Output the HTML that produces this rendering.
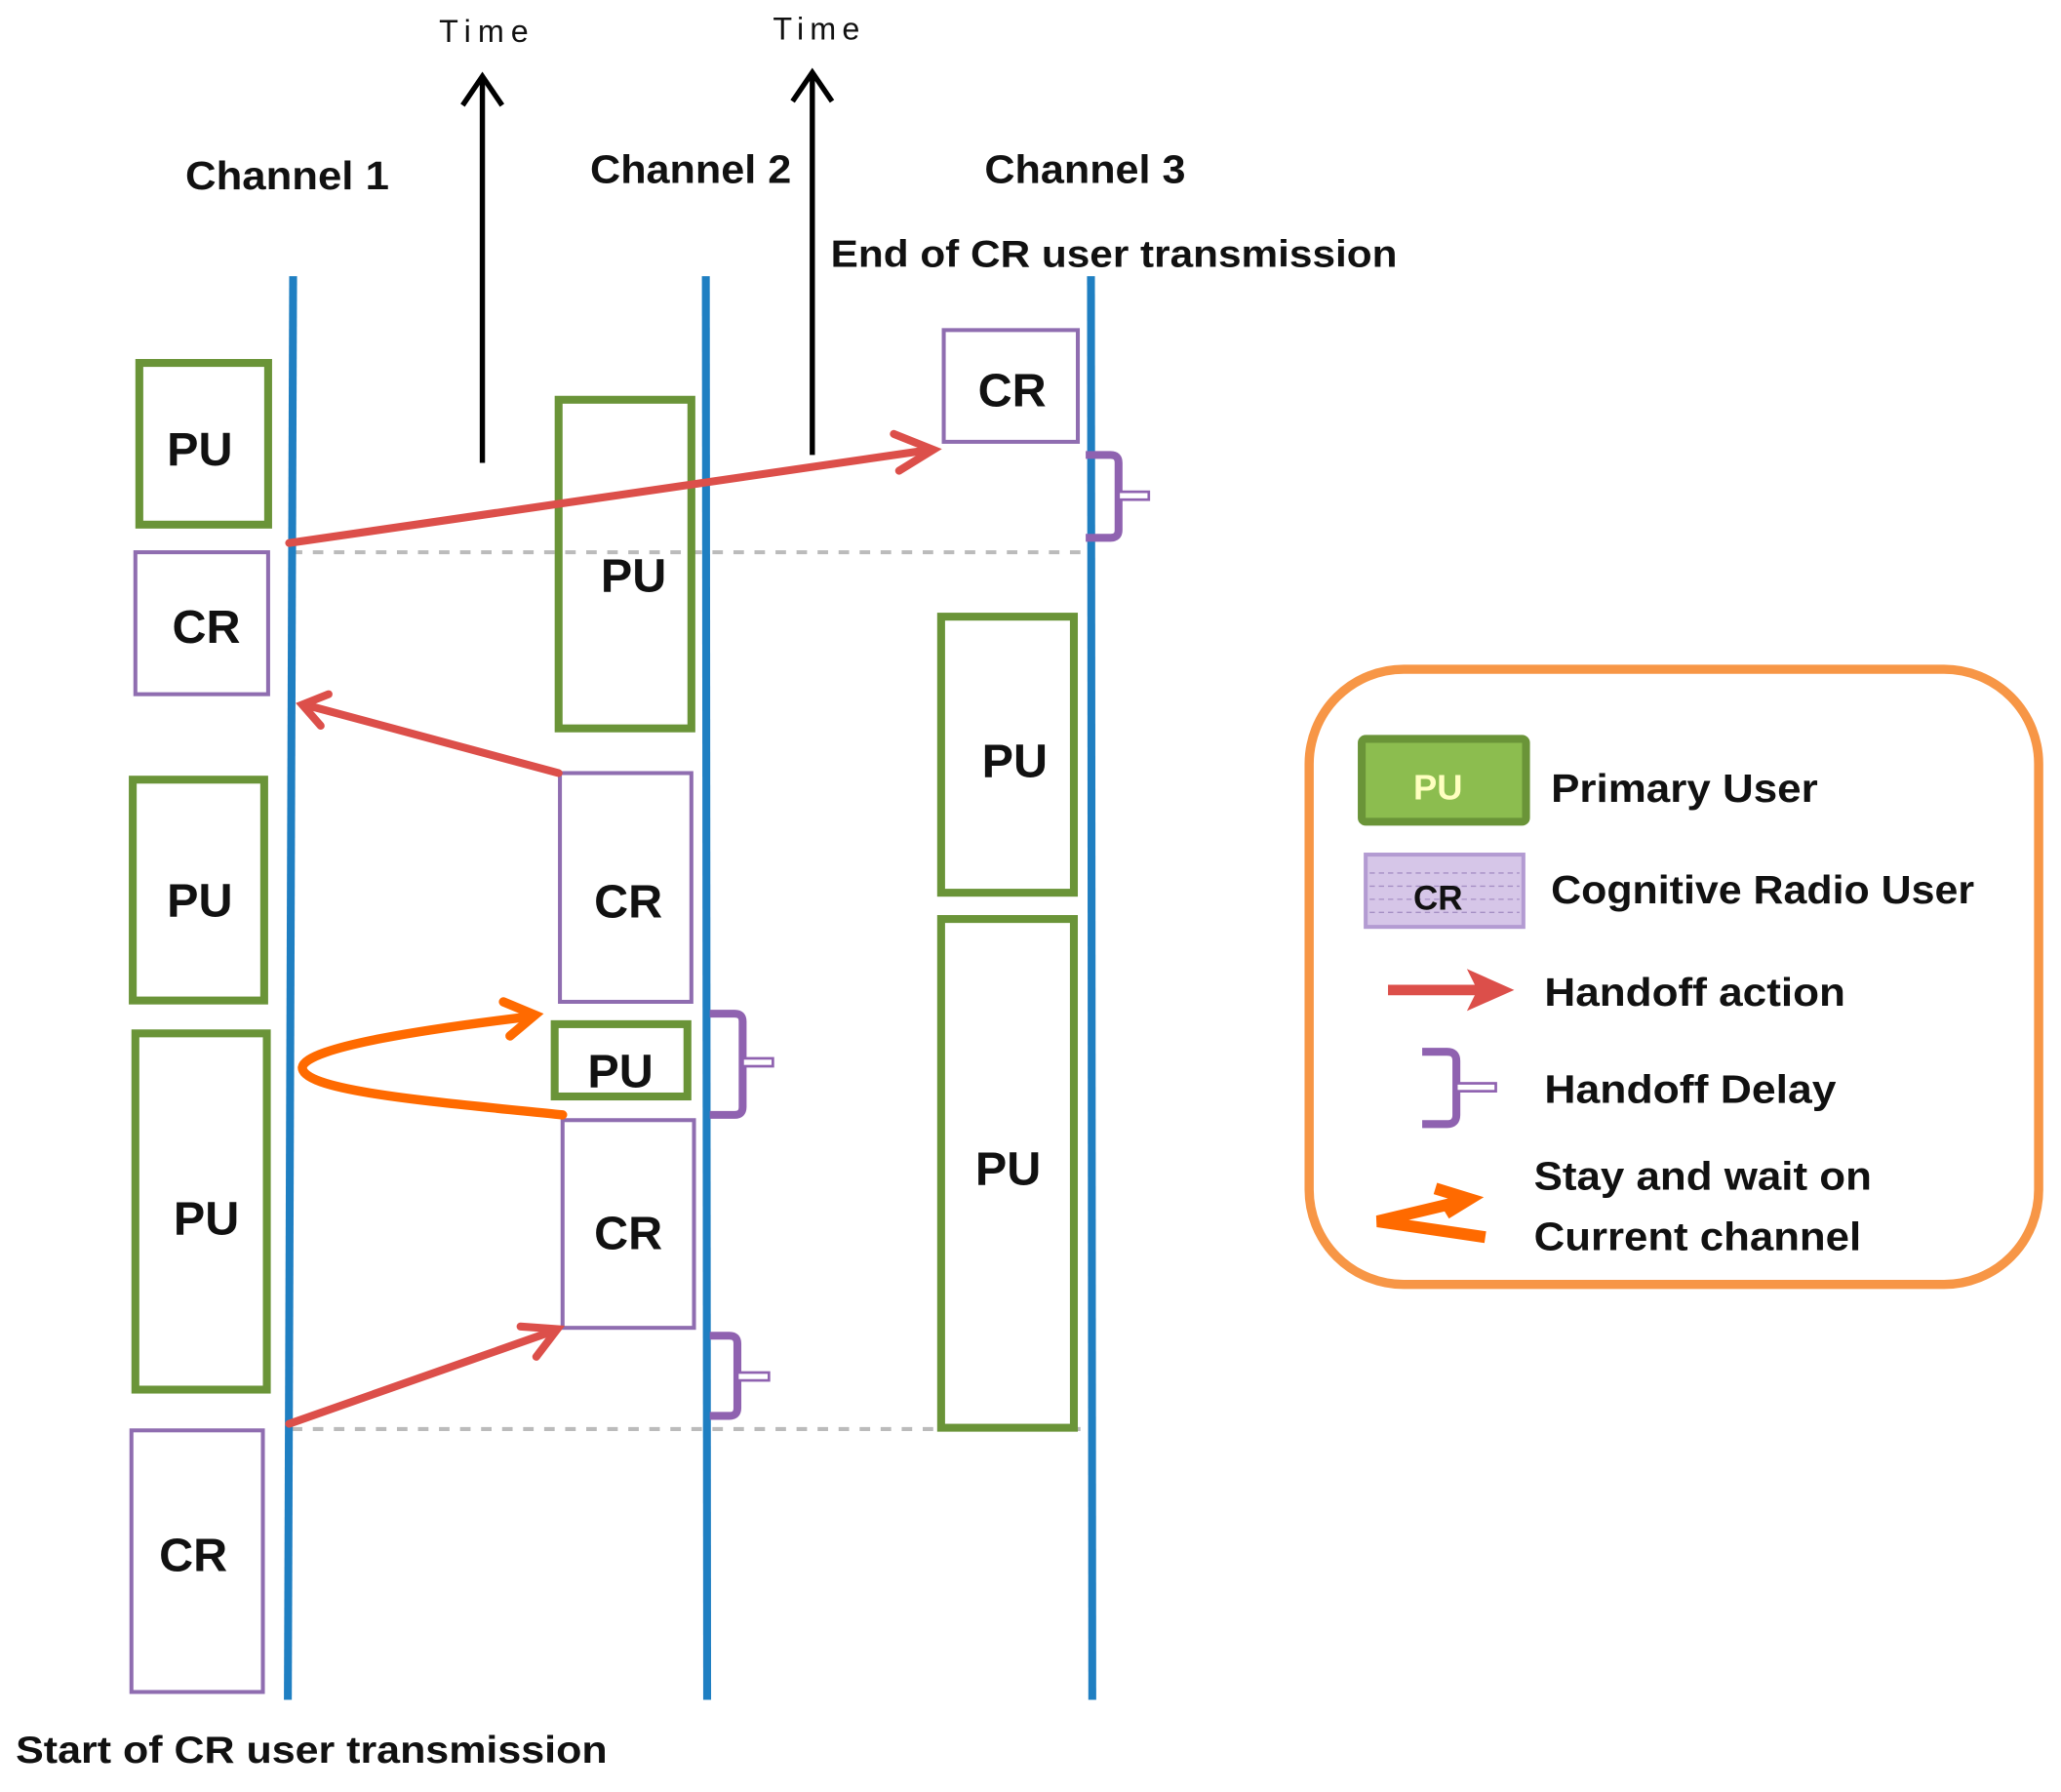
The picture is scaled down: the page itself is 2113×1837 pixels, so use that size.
<!DOCTYPE html>
<html><head><meta charset="utf-8"><style>
html,body{margin:0;padding:0;background:#fff;}
svg{display:block;}
text{font-family:"Liberation Sans",sans-serif;fill:#111;}
</style></head><body>
<svg width="2113" height="1837" viewBox="0 0 1568 1363" xmlns="http://www.w3.org/2000/svg">
<!-- time arrows -->
<line x1="367" y1="352" x2="367" y2="58" stroke="#000" stroke-width="4"/>
<polyline points="352,80 367,58 382,80" fill="none" stroke="#000" stroke-width="4"/>
<line x1="618" y1="346" x2="618" y2="55" stroke="#000" stroke-width="4"/>
<polyline points="603,77 618,55 633,77" fill="none" stroke="#000" stroke-width="4"/>
<text x="334" y="32" font-size="24" textLength="68" lengthAdjust="spacing">Time</text>
<text x="588" y="30" font-size="24" textLength="66" lengthAdjust="spacing">Time</text>
<!-- channel labels -->
<text x="141" y="144" font-size="30" font-weight="bold" textLength="155" lengthAdjust="spacingAndGlyphs">Channel 1</text>
<text x="449" y="139" font-size="30" font-weight="bold" textLength="153" lengthAdjust="spacingAndGlyphs">Channel 2</text>
<text x="749" y="139" font-size="30" font-weight="bold" textLength="153" lengthAdjust="spacingAndGlyphs">Channel 3</text>
<text x="632" y="203" font-size="29" font-weight="bold" textLength="431" lengthAdjust="spacingAndGlyphs">End of CR user transmission</text>
<text x="12" y="1341" font-size="29" font-weight="bold" textLength="450" lengthAdjust="spacingAndGlyphs">Start of CR user transmission</text>
<!-- dashed lines -->
<line x1="222" y1="420" x2="830" y2="420" stroke="#bbb" stroke-width="3" stroke-dasharray="8,8"/>
<line x1="222" y1="1087" x2="830" y2="1087" stroke="#bbb" stroke-width="3" stroke-dasharray="8,8"/>
<!-- channel lines -->
<line x1="223" y1="210" x2="219" y2="1293" stroke="#1f7fc2" stroke-width="6"/>
<line x1="537" y1="210" x2="538" y2="1293" stroke="#1f7fc2" stroke-width="6"/>
<line x1="830" y1="210" x2="831" y2="1293" stroke="#1f7fc2" stroke-width="6"/>
<!-- PU boxes -->
<g fill="none" stroke="#6a9438" stroke-width="6">
<rect x="106" y="276" width="98" height="123"/>
<rect x="101" y="593" width="100" height="168"/>
<rect x="103" y="786" width="100" height="271"/>
<rect x="425" y="304" width="101" height="250"/>
<rect x="422" y="779" width="101" height="55"/>
<rect x="716" y="469" width="101" height="210"/>
<rect x="716" y="699" width="101" height="387"/>
</g>
<g fill="none" stroke="#8f6db0" stroke-width="3">
<rect x="103" y="420" width="101" height="108"/>
<rect x="100" y="1088" width="100" height="199"/>
<rect x="426" y="588" width="100" height="174"/>
<rect x="428" y="852" width="100" height="158"/>
<rect x="718" y="251" width="102" height="85"/>
</g>
<g font-size="36" font-weight="bold" text-anchor="middle">
<text x="152" y="354">PU</text>
<text x="157" y="489">CR</text>
<text x="152" y="697">PU</text>
<text x="157" y="939">PU</text>
<text x="147" y="1195">CR</text>
<text x="482" y="450">PU</text>
<text x="478" y="698">CR</text>
<text x="472" y="827">PU</text>
<text x="478" y="950">CR</text>
<text x="770" y="309">CR</text>
<text x="772" y="591">PU</text>
<text x="767" y="901">PU</text>
</g>
<!-- red handoff arrows -->
<g stroke="#dc4f4a" stroke-width="6" fill="none" stroke-linecap="round">
<line x1="220" y1="413" x2="708" y2="342"/>
<polyline points="680,330 710,342 684,358"/>
<line x1="425" y1="588" x2="232" y2="536"/>
<polyline points="250,528 230,536 244,552"/>
<line x1="220" y1="1083" x2="422" y2="1012"/>
<polyline points="396,1009 424,1011 408,1032"/>
</g>
<!-- orange stay -->
<g stroke="#ff6a00" stroke-width="7" fill="none" stroke-linecap="round">
<path d="M428,848 C330,838 230,830 230,812 C232,796 330,782 405,773"/>
<polyline points="383,762 407,772 388,788"/>
</g>
<!-- brackets -->
<g stroke="#8f62b0" stroke-width="6" fill="none">
<path d="M826,346 H845 Q851,346 851,352 V403 Q851,409 845,409 H826"/>
<path d="M540,771 H559 Q565,771 565,777 V842 Q565,848 559,848 H540"/>
<path d="M540,1016 H555 Q561,1016 561,1022 V1071 Q561,1077 555,1077 H540"/>
</g>
<g stroke="#8f62b0" stroke-width="2" fill="#fff">
<rect x="851" y="374" width="23" height="6"/>
<rect x="565" y="805" width="23" height="6"/>
<rect x="561" y="1044" width="24" height="6"/>
</g>
<!-- legend -->
<rect x="996" y="509" width="555" height="468" rx="72" fill="none" stroke="#f79646" stroke-width="7"/>
<rect x="1036" y="562" width="125" height="63" rx="3" fill="#8cbd4f" stroke="#6a9438" stroke-width="6"/>
<text x="1094" y="608" font-size="27" font-weight="bold" text-anchor="middle" style="fill:#ffffc0">PU</text>
<rect x="1039" y="650" width="120" height="55" fill="#d6c6e8" stroke="#b39bd2" stroke-width="3"/>
<g stroke="#a58fc4" stroke-width="1" stroke-dasharray="4,3">
<line x1="1042" y1="664" x2="1156" y2="664"/><line x1="1042" y1="674" x2="1156" y2="674"/>
<line x1="1042" y1="684" x2="1156" y2="684"/><line x1="1042" y1="694" x2="1156" y2="694"/>
</g>
<text x="1094" y="692" font-size="26" font-weight="bold" text-anchor="middle">CR</text>
<line x1="1056" y1="753" x2="1140" y2="753" stroke="#dc4f4a" stroke-width="8"/>
<polygon points="1116,737 1152,753 1116,769 1124,753" fill="#dc4f4a"/>
<path d="M1082,800 H1101 Q1108,800 1108,807 V848 Q1108,855 1101,855 H1082" stroke="#8f62b0" stroke-width="6" fill="none"/>
<rect x="1108" y="824" width="30" height="6" fill="#fff" stroke="#8f62b0" stroke-width="2"/>
<g stroke="#ff6a00" stroke-width="9" fill="none">
<polyline points="1130,941 1048,929 1115,913"/>
<polyline points="1092,904 1118,912 1100,923"/>
</g>
<g font-size="30" font-weight="bold">
<text x="1180" y="610" textLength="203" lengthAdjust="spacingAndGlyphs">Primary User</text>
<text x="1180" y="687" textLength="322" lengthAdjust="spacingAndGlyphs">Cognitive Radio User</text>
<text x="1175" y="765" textLength="229" lengthAdjust="spacingAndGlyphs">Handoff action</text>
<text x="1175" y="839" textLength="222" lengthAdjust="spacingAndGlyphs">Handoff Delay</text>
<text x="1167" y="905" textLength="257" lengthAdjust="spacingAndGlyphs">Stay and wait on</text>
<text x="1167" y="951" textLength="249" lengthAdjust="spacingAndGlyphs">Current channel</text>
</g>
</svg>
</body></html>
